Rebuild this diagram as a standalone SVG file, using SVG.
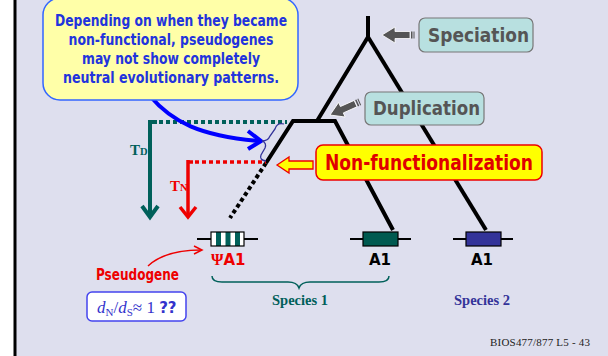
<svg xmlns="http://www.w3.org/2000/svg" width="608" height="356" viewBox="0 0 608 356">
<defs>
<style>
.comic{font-family:"DejaVu Sans","Liberation Sans",sans-serif;font-weight:bold}
.serif{font-family:"Liberation Serif","Times New Roman",serif;font-weight:bold}
.branch{stroke:#000;stroke-width:4;fill:none;stroke-linejoin:miter}
.gline{stroke:#000;stroke-width:2}
.gbox{stroke:#000;stroke-width:1.2}
</style>
</defs>
<rect x="0" y="0" width="608" height="356" fill="#DEDFEE"/>
<rect x="0" y="0" width="14" height="356" fill="#FFFFFF"/>
<line x1="15" y1="0" x2="15" y2="356" stroke="#000" stroke-width="3"/>

<g id="connectors">
  <!-- tree -->
  <polyline class="branch" points="368,16 368,37 317,121"/>
  <polyline class="branch" points="368,37 486,230"/>
  <polyline class="branch" points="266,163 293,121 335,121 393,230"/>
  <line x1="266" y1="163" x2="230" y2="218" stroke="#000" stroke-width="4" stroke-dasharray="4 3"/>
  <!-- TD -->
  <line x1="148" y1="122" x2="157" y2="122" stroke="#00605A" stroke-width="4"/>
  <line x1="159" y1="122" x2="287" y2="122" stroke="#00605A" stroke-width="4" stroke-dasharray="4 3"/>
  <line x1="150" y1="120" x2="150" y2="217" stroke="#00605A" stroke-width="4"/>
  <polyline points="142,206 150,217 158,206" fill="none" stroke="#00605A" stroke-width="4"/>
  <!-- TN -->
  <line x1="187" y1="162" x2="193" y2="162" stroke="#EE0000" stroke-width="3.5"/>
  <line x1="195" y1="162" x2="266" y2="162" stroke="#EE0000" stroke-width="3.5" stroke-dasharray="4 3"/>
  <line x1="188" y1="160" x2="188" y2="217" stroke="#EE0000" stroke-width="3.5"/>
  <polyline points="180,207 188,217 196,207" fill="none" stroke="#EE0000" stroke-width="3.5"/>
  <!-- callout arrow -->
  <path d="M150,96 C172,122 200,136 259,141" fill="none" stroke="#0000FF" stroke-width="4"/>
  <polyline points="248,131 261,141 248,149" fill="none" stroke="#0000FF" stroke-width="4"/>
  <!-- small brace -->
  <path d="M284,124 Q277,122 275,129 L270,136 Q268,141 262,141 Q267,143 265,148 L261,155 Q259,160 266,161" fill="none" stroke="#333399" stroke-width="1.3"/>
  <!-- pseudogene arrow -->
  <path d="M148,266 Q165,250 201,250" fill="none" stroke="#EE0000" stroke-width="1.5"/>
  <polyline points="194,246 202,250 194,254" fill="none" stroke="#EE0000" stroke-width="1.5"/>
  <!-- species 1 brace -->
  <path d="M212,276 Q212,282 222,282 L288,282 Q297,282 299,288 Q301,282 310,282 L379,282 Q389,282 389,276" fill="none" stroke="#00605A" stroke-width="1.5"/>
</g>

<g id="callout">
  <rect x="43" y="-2" width="255" height="102" rx="17" fill="#FFFFA8" stroke="#3366FF" stroke-width="1.5"/>
  <g class="comic" fill="#2233DD" font-size="15.5" text-anchor="middle">
    <text x="171" y="26" textLength="232" lengthAdjust="spacingAndGlyphs">Depending on when they became</text>
    <text x="171" y="45" textLength="205" lengthAdjust="spacingAndGlyphs">non-functional, pseudogenes</text>
    <text x="171" y="64" textLength="178" lengthAdjust="spacingAndGlyphs">may not show completely</text>
    <text x="171" y="83" textLength="216" lengthAdjust="spacingAndGlyphs">neutral evolutionary patterns.</text>
  </g>
</g>

<g id="speciation">
  <rect x="419" y="18" width="114" height="34" rx="6" fill="#B8E0E0" stroke="#777" stroke-width="1.2"/>
  <text class="comic" x="428" y="42" font-size="20" fill="#555" textLength="101" lengthAdjust="spacingAndGlyphs">Speciation</text>
  <polygon points="382,35 395,27 395,31.5 410,31.5 410,38.5 395,38.5 395,43" fill="#555" stroke="#fff" stroke-width="0.8"/>
  <rect x="411" y="31.5" width="1.5" height="7" fill="#555"/>
  <rect x="413.5" y="31.5" width="1" height="7" fill="#555"/>
</g>

<g id="duplication">
  <rect x="365" y="92" width="119" height="33" rx="6" fill="#B8E0E0" stroke="#777" stroke-width="1.2"/>
  <text class="comic" x="373" y="115" font-size="20" fill="#555" textLength="107" lengthAdjust="spacingAndGlyphs">Duplication</text>
  <g transform="translate(330,115) rotate(-24)">
    <polygon points="0,0 13,-8 13,-3.5 28,-3.5 28,3.5 13,3.5 13,8" fill="#555" stroke="#fff" stroke-width="0.8"/>
    <rect x="29" y="-3.5" width="1.5" height="7" fill="#555"/>
    <rect x="31.5" y="-3.5" width="1" height="7" fill="#555"/>
  </g>
</g>

<g id="nonfunc">
  <rect x="316" y="145" width="226" height="35" rx="7" fill="#FFFF00" stroke="#EE0000" stroke-width="1.5"/>
  <text class="comic" x="325" y="170" font-size="21" fill="#E00000" textLength="208" lengthAdjust="spacingAndGlyphs">Non-functionalization</text>
  <polygon points="277,165 289,157 289,161 313,161 313,169 289,169 289,173" fill="#FFFF00" stroke="#EE0000" stroke-width="1.3"/>
</g>

<g id="td-label">
  <text class="serif" x="130" y="155" font-size="15" fill="#00605A">T<tspan font-size="10.5">D</tspan></text>
</g>
<g id="tn-label">
  <text class="serif" x="170" y="191" font-size="15" fill="#EE0000">T<tspan font-size="10.5">N</tspan></text>
</g>

<g id="pseudogene-gene">
  <line class="gline" x1="197" y1="239" x2="258" y2="239"/>
  <rect x="211" y="232" width="33" height="14" fill="#fff"/>
  <rect x="216" y="232" width="5" height="14" fill="#00605A"/>
  <rect x="225.5" y="232" width="5" height="14" fill="#00605A"/>
  <rect x="235" y="232" width="5" height="14" fill="#00605A"/>
  <rect class="gbox" x="211" y="232" width="33" height="14" fill="none"/>
  <text x="211" y="265" font-size="16" fill="#EE0000"><tspan class="serif">Ψ</tspan><tspan class="comic" font-size="15">A1</tspan></text>
</g>

<g id="gene-a1-sp1">
  <line class="gline" x1="350" y1="239" x2="411" y2="239"/>
  <rect class="gbox" x="363" y="232" width="35" height="14" fill="#005A50"/>
  <text class="comic" x="380" y="265" font-size="15" text-anchor="middle" fill="#000">A1</text>
</g>

<g id="gene-a1-sp2">
  <line class="gline" x1="453" y1="239" x2="513" y2="239"/>
  <rect class="gbox" x="466" y="232" width="35" height="14" fill="#333399"/>
  <text class="comic" x="482" y="265" font-size="15" text-anchor="middle" fill="#000">A1</text>
</g>

<g id="pseudogene-label">
  <text class="comic" x="96" y="280" font-size="15" fill="#EE0000" textLength="83" lengthAdjust="spacingAndGlyphs">Pseudogene</text>
</g>

<g id="dnds">
  <rect x="87" y="292" width="99" height="29" rx="5" fill="#FFFFFF" stroke="#4444EE" stroke-width="1.5"/>
  <text x="97" y="313" font-size="17" fill="#3333CC" font-family="Liberation Serif, serif"><tspan font-style="italic">d</tspan><tspan font-size="11" dy="3">N</tspan><tspan dy="-3">/</tspan><tspan font-style="italic">d</tspan><tspan font-size="11" dy="3">S</tspan><tspan dy="-3">≈ 1 </tspan><tspan class="comic" font-size="15">??</tspan></text>
</g>

<g id="species1">
  <text class="serif" x="300" y="305" font-size="14.5" fill="#00605A" text-anchor="middle">Species 1</text>
</g>
<g id="species2">
  <text class="serif" x="482" y="305" font-size="14.5" fill="#333399" text-anchor="middle">Species 2</text>
</g>

<text x="490" y="346" font-size="11" fill="#222" font-family="Liberation Serif, serif" textLength="100">BIOS477/877 L5 - 43</text>
</svg>
